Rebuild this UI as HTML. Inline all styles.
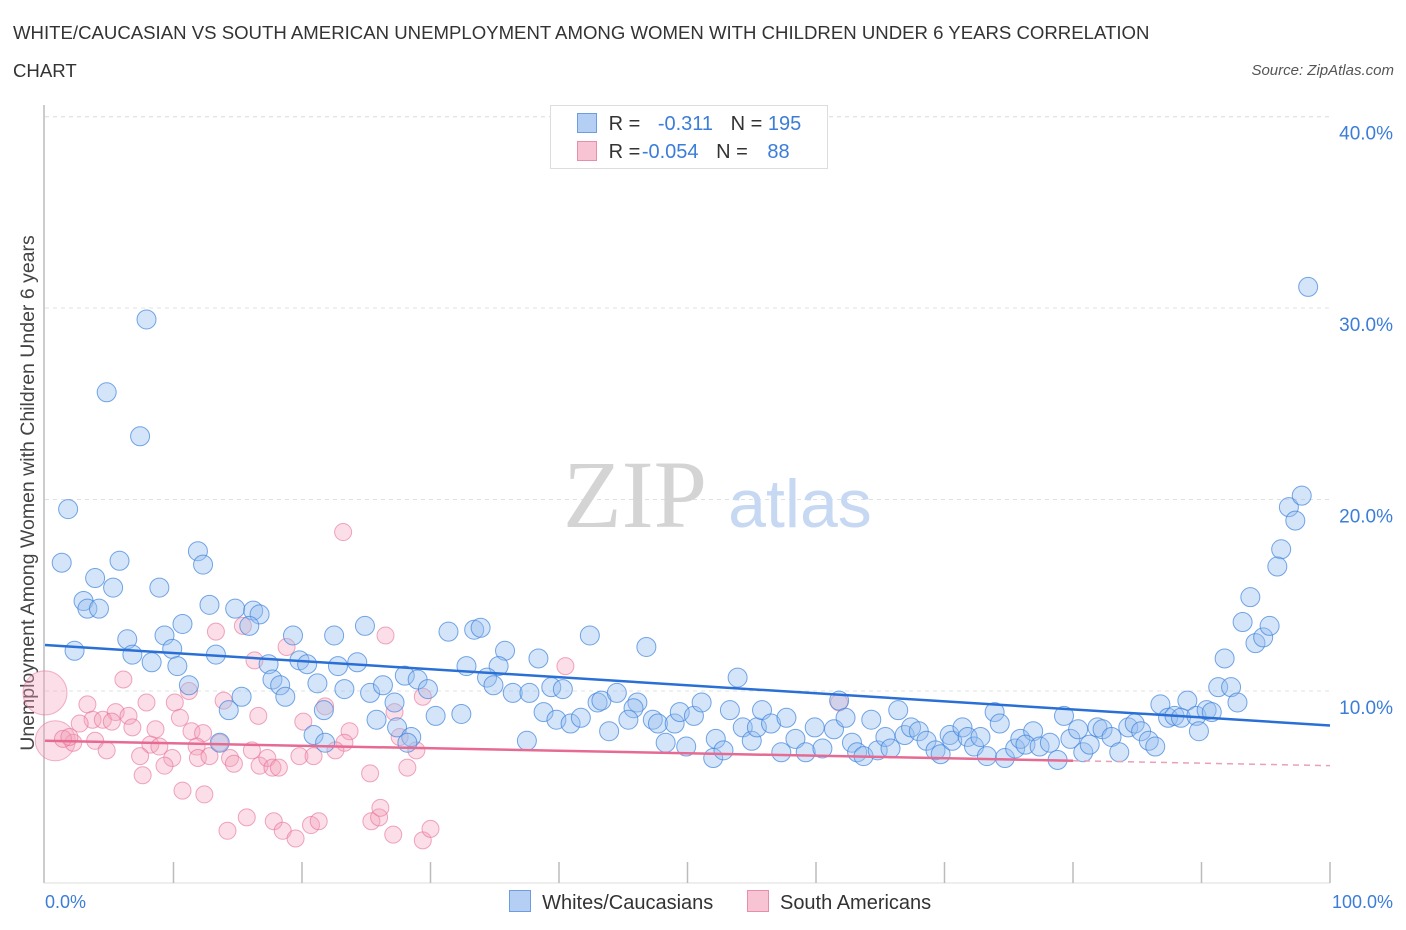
<!DOCTYPE html>
<html><head><meta charset="utf-8">
<style>
body{margin:0;background:#fff;font-family:"Liberation Sans",sans-serif;}
#wrap{position:relative;width:1406px;height:930px;overflow:hidden;}
.t{position:absolute;white-space:nowrap;}
</style></head>
<body>
<div id="wrap">
<div class="t" style="left:13px;top:14px;font-size:18.6px;color:#333;line-height:38px;">WHITE/CAUCASIAN VS SOUTH AMERICAN UNEMPLOYMENT AMONG WOMEN WITH CHILDREN UNDER 6 YEARS CORRELATION<br>CHART</div>
<div class="t" style="right:12px;top:62px;font-size:15px;color:#555;font-style:italic;">Source: ZipAtlas.com</div>
<svg id="chart" width="1406" height="930" style="position:absolute;left:0;top:0"></svg>
</div>
<script>
const yTicks=[10,20,30,40];
const yTickLabels=["10.0%","20.0%","30.0%","40.0%"];
const xTickLabels=["0.0%","100.0%"];
const blueX=[7.9,4.8,7.4,1.8,1.3,5.8,11.9,12.3,3.9,8.9,5.3,3.0,3.3,4.2,12.8,14.8,16.2,16.7,15.9,10.7,6.4,9.3,9.9,2.3,6.8,8.3,10.3,13.3,17.4,19.3,19.8,20.4,22.5,24.9,22.8,24.3,21.2,23.3,11.2,15.3,14.3,17.7,18.3,18.7,25.3,26.3,27.2,28.0,29.0,29.8,25.8,27.4,28.5,21.7,20.9,21.8,13.6,31.4,33.4,32.8,30.4,32.4,28.2,
33.9,35.8,38.4,42.4,46.8,35.3,34.4,34.9,36.4,37.7,39.4,40.3,38.8,39.8,40.9,41.7,43.0,43.3,44.5,46.1,45.8,45.4,43.9,37.5,47.3,47.7,48.3,49.0,49.4,50.5,51.1,49.9,52.0,52.2,52.8,53.3,54.3,55.0,55.4,55.8,56.5,57.7,57.3,53.9,58.4,59.2,59.9,60.5,61.4,61.8,62.3,62.8,63.2,63.7,64.3,64.8,65.4,65.8,66.4,66.9,67.4,68.0,68.6,69.3,69.7,70.4,70.6,71.4,71.8,72.3,72.8,73.3,73.9,74.3,74.7,75.5,75.9,76.9,76.3,77.4,78.2,78.8,79.3,79.8,80.4,80.8,81.3,81.9,82.3,83.0,83.6,84.3,84.8,85.3,85.9,86.4,86.8,87.4,87.9,88.4,88.9,89.6,89.8,90.4,90.8,91.3,92.3,91.8,92.8,93.2,94.2,94.8,95.3,93.8,96.2,95.9,96.8,97.3,97.8,98.3];
const blueY=[29.4,25.6,23.3,19.5,16.7,16.8,17.3,16.6,15.9,15.4,15.4,14.7,14.3,14.3,14.5,14.3,14.2,14.0,13.4,13.5,12.7,12.9,12.2,12.1,11.9,11.5,11.3,11.9,11.4,12.9,11.6,11.4,12.9,13.4,11.3,11.5,10.4,10.1,10.3,9.7,9.0,10.6,10.3,9.7,9.9,10.3,9.4,10.8,10.6,10.1,8.5,8.1,7.6,9.0,7.7,7.3,7.3,13.1,13.2,11.3,8.7,8.8,7.3,
13.3,12.1,11.7,12.9,12.3,11.3,10.7,10.3,9.9,9.9,10.2,10.1,8.9,8.5,8.3,8.6,9.4,9.5,9.9,9.4,9.1,8.5,7.9,7.4,8.5,8.3,7.3,8.3,8.9,8.7,9.4,7.1,6.5,7.5,6.9,9.0,8.1,7.4,8.1,9.0,8.3,8.6,6.8,10.7,7.5,6.8,8.1,7.0,8.0,9.5,8.6,7.3,6.8,6.6,8.5,6.9,7.6,7.0,9.0,7.7,8.1,7.9,7.4,6.9,6.7,7.7,7.4,8.1,7.6,7.1,7.6,6.6,8.9,8.3,6.5,7.0,7.5,7.9,7.2,7.1,7.3,6.4,8.7,7.5,8.0,6.8,7.2,8.1,8.0,7.6,6.8,8.1,8.3,7.9,7.4,7.1,9.3,8.6,8.7,8.6,9.5,8.7,7.9,9.0,8.9,10.2,10.2,11.7,9.4,13.6,12.5,12.8,13.4,14.9,17.4,16.5,19.6,18.9,20.2,31.1];
const pinkX=[23.2,13.3,15.4,26.5,18.8,16.3,6.1,11.2,10.1,13.9,7.9,3.3,21.8,27.2,29.4,16.6,10.5,3.7,5.5,6.5,4.5,5.2,6.8,2.7,20.1,8.6,23.7,11.4,12.3,27.6,23.3,3.9,2.2,1.4,1.9,8.2,8.9,4.8,11.8,13.6,16.1,22.6,28.9,7.4,9.9,9.3,11.9,12.8,14.4,14.7,16.7,17.3,17.7,18.2,19.8,20.9,25.3,28.2,7.6,10.7,12.4,14.2,15.7,17.8,18.5,19.5,20.7,21.3,25.4,26.0,26.1,27.1,29.4,30.0,40.5,61.8];
const pinkY=[18.3,13.1,13.4,12.9,12.3,11.6,10.6,10.0,9.4,9.5,9.4,9.3,9.2,8.9,9.7,8.7,8.6,8.5,8.9,8.7,8.5,8.4,8.1,8.3,8.4,8.0,7.9,7.9,7.8,7.6,7.3,7.4,7.3,7.5,7.6,7.2,7.1,6.9,7.1,7.3,6.9,6.9,6.9,6.6,6.5,6.1,6.5,6.6,6.5,6.2,6.1,6.5,6.0,6.0,6.6,6.6,5.7,6.0,5.6,4.8,4.6,2.7,3.4,3.2,2.7,2.3,3.0,3.2,3.2,3.4,3.9,2.5,2.2,2.8,11.3,9.4];
const pinkBigX=[0.0,0.8];
const pinkBigY=[9.9,7.4];
const blueTrend=[12.4,8.2];
const pinkTrend=[7.4,6.1];
const pinkSolidEnd=80;

const NS="http://www.w3.org/2000/svg";
const svg=document.getElementById('chart');
const X0=45,X1=1330,Y0=882.5,YPER=19.15;
const sx=v=>X0+(X1-X0)*v/100;
const sy=v=>Y0-YPER*v;
function el(tag,attrs){const e=document.createElementNS(NS,tag);for(const k in attrs)e.setAttribute(k,attrs[k]);svg.appendChild(e);return e;}

yTicks.forEach((t,i)=>{
  const g=el('line',{x1:45,x2:1330,y1:sy(t),y2:sy(t),stroke:'#dde0e6','stroke-dasharray':'4,4'});
  
  
  const tx=el('text',{x:1393,y:sy(t)+23,'text-anchor':'end','font-size':19,fill:'#3b7dd8','font-family':'Liberation Sans'});
  tx.textContent=yTickLabels[i];
  
  
});
const topGrid=el('line',{x1:45,x2:1330,y1:117,y2:117,stroke:'#e6e8ec','stroke-dasharray':'4,4'});


const ya=el('line',{x1:44,x2:44,y1:105,y2:883,stroke:'#bbb','stroke-width':1.5});


const xa=el('line',{x1:44,x2:1330,y1:883,y2:883,stroke:'#ddd'});


for(let i=1;i<=10;i++){
  const tk=el('line',{x1:sx(i*10),x2:sx(i*10),y1:862,y2:883,stroke:'#bbb','stroke-width':1.5});
  
  
}
const xl0=el('text',{x:45,y:908,'font-size':18,fill:'#3b7dd8','font-family':'Liberation Sans'});
xl0.textContent=xTickLabels[0];


const xl1=el('text',{x:1393,y:908,'text-anchor':'end','font-size':18,fill:'#3b7dd8','font-family':'Liberation Sans'});
xl1.textContent=xTickLabels[1];


const yt=el('text',{x:0,y:0,transform:'translate(34,493) rotate(-90)','text-anchor':'middle','font-size':19.5,fill:'#444','font-family':'Liberation Sans'});
yt.textContent='Unemployment Among Women with Children Under 6 years';


const w1=el('text',{x:635,y:527,'text-anchor':'middle','font-size':96,fill:'#d4d4d4','font-family':'Liberation Serif'});
w1.textContent='ZIP';


const w2=el('text',{x:800,y:527,'text-anchor':'middle','font-size':68,fill:'#c6d8f2','font-family':'Liberation Sans'});
w2.textContent='atlas';


pinkBigX.forEach((v,i)=>{
  const c=el('circle',{cx:sx(v),cy:sy(pinkBigY[i]),r:i==0?22:20,fill:'rgba(244,160,185,0.35)',stroke:'rgba(230,110,150,0.5)','stroke-width':1});
  
  
});
pinkX.forEach((v,i)=>{
  const c=el('circle',{cx:sx(v),cy:sy(pinkY[i]),r:8.5,fill:'rgba(244,160,185,0.35)',stroke:'rgba(230,110,150,0.6)','stroke-width':1});
  
  
});
blueX.forEach((v,i)=>{
  const c=el('circle',{cx:sx(v),cy:sy(blueY[i]),r:9.5,fill:'rgba(150,190,240,0.4)',stroke:'rgba(60,130,220,0.7)','stroke-width':1});
  
  
});
const bl=el('line',{x1:sx(0),y1:sy(blueTrend[0]),x2:sx(100),y2:sy(blueTrend[1]),stroke:'#2a6fd6','stroke-width':2.5});


const pm=pinkTrend[0]+(pinkTrend[1]-pinkTrend[0])*pinkSolidEnd/100;
const pl=el('line',{x1:sx(0),y1:sy(pinkTrend[0]),x2:sx(pinkSolidEnd),y2:sy(pm),stroke:'#e66a92','stroke-width':2.5});


const pd=el('line',{x1:sx(pinkSolidEnd),y1:sy(pm),x2:sx(100),y2:sy(pinkTrend[1]),stroke:'#e9a0b8','stroke-width':1.5,'stroke-dasharray':'6,5'});


</script>
<div style="position:absolute;left:550px;top:105px;width:276px;height:62px;border:1px solid #ddd;background:#fff;font-size:20px;">
  <div style="position:absolute;left:26px;top:7px;white-space:nowrap;">
    <span style="display:inline-block;width:18px;height:18px;background:#b4cff3;border:1px solid #6d9de0;vertical-align:-3px;"></span>
    <span style="color:#333;margin-left:6px;">R = </span><span style="color:#3b7dd8;margin-left:12px;">-0.311</span>
    <span style="color:#333;margin-left:12px;">N = </span><span style="color:#3b7dd8;margin-left:0px;">195</span>
  </div>
  <div style="position:absolute;left:26px;top:35px;white-space:nowrap;">
    <span style="display:inline-block;width:18px;height:18px;background:#f8c4d4;border:1px solid #e58fab;vertical-align:-3px;"></span>
    <span style="color:#333;margin-left:6px;">R = </span><span style="color:#3b7dd8;margin-left:-4px;">-0.054</span>
    <span style="color:#333;margin-left:12px;">N = </span><span style="color:#3b7dd8;margin-left:14px;">88</span>
  </div>
</div>
<div style="position:absolute;left:509px;top:890px;font-size:20px;color:#333;white-space:nowrap;">
  <span><span style="display:inline-block;width:20px;height:20px;background:#b4cff3;border:1px solid #6d9de0;vertical-align:-3px;"></span>&nbsp; Whites/Caucasians</span>
  <span style="margin-left:28px;"><span style="display:inline-block;width:20px;height:20px;background:#f8c4d4;border:1px solid #e58fab;vertical-align:-3px;"></span>&nbsp; South Americans</span>
</div>
</body></html>
